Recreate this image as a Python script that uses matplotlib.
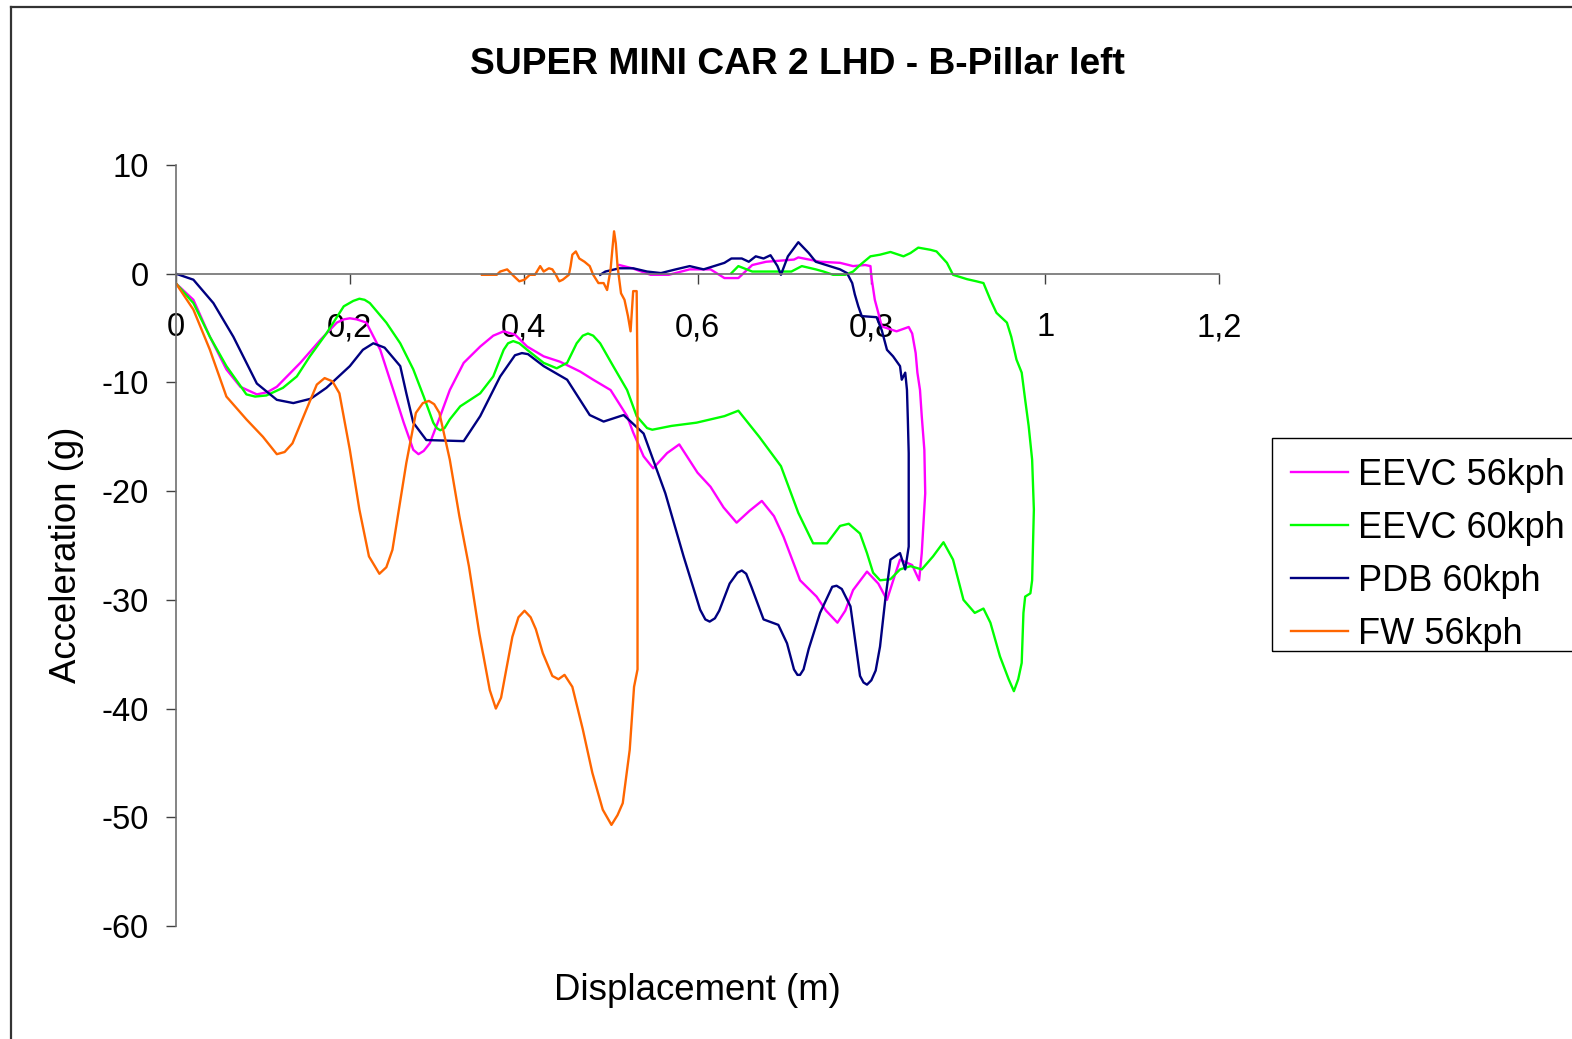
import matplotlib
matplotlib.use("Agg")
import matplotlib.pyplot as plt
from matplotlib.lines import Line2D
from matplotlib.patches import Rectangle

plt.rcParams['font.family'] = ['Liberation Sans', 'DejaVu Sans']
plt.rcParams['axes.unicode_minus'] = False

# ---------------- data ----------------
series_names = ["EEVC 56kph", "EEVC 60kph", "PDB 60kph", "FW 56kph"]
series_colors = ["#FF00FF", "#00FF00", "#000080", "#FF6600"]

eevc56_x = [0, 0.02, 0.039, 0.058, 0.074, 0.093, 0.105, 0.116, 0.143, 0.166, 0.185, 0.193, 0.2, 0.208,
            0.219, 0.235, 0.25, 0.262, 0.273, 0.279, 0.285, 0.292, 0.304, 0.315, 0.331, 0.35, 0.365,
            0.377, 0.39, 0.404, 0.423, 0.442, 0.465,
            0.48, 0.5, 0.519, 0.526, 0.538, 0.549, 0.565, 0.579, 0.6, 0.615, 0.63, 0.645, 0.66, 0.674,
            0.688, 0.699, 0.718, 0.737, 0.748, 0.761, 0.77, 0.779, 0.795, 0.808, 0.818, 0.826, 0.833,
            0.847, 0.855, 0.858, 0.862, 0.861, 0.858, 0.856, 0.853, 0.851, 0.847, 0.843, 0.829, 0.812,
            0.808, 0.804, 0.8, 0.799, 0.793, 0.779, 0.764, 0.741, 0.716, 0.711, 0.679, 0.663, 0.647,
            0.631, 0.615, 0.591, 0.567, 0.546, 0.525, 0.51]
eevc56_y = [-0.9, -2.4, -5.8, -8.8, -10.4, -11.1, -10.9, -10.4, -8.2, -6.1, -4.5, -4.2, -4.1, -4.2,
            -4.5, -7.0, -10.7, -13.7, -16.2, -16.6, -16.3, -15.6, -13.1, -10.7, -8.2, -6.7, -5.7,
            -5.3, -5.6, -6.7, -7.6, -8.1, -9.0,
            -9.75, -10.7, -13.1, -14.6, -16.8, -17.9, -16.5, -15.7, -18.3, -19.6, -21.5, -22.9, -21.8, -20.9,
            -22.3, -24.2, -28.2, -29.7, -31.0, -32.1, -31.0, -29.1, -27.4, -28.5, -30.0, -28.0, -26.3,
            -26.8, -28.2, -25.7, -20.2, -16.2, -13.1, -10.7, -9.1, -7.3, -5.5, -4.9, -5.3, -4.85,
            -3.6, -2.4, -0.25, 0.7, 0.8, 0.7, 1.0, 1.1, 1.5, 1.3, 1.1, 0.8, -0.4,
            -0.4, 0.4, 0.4, -0.1, -0.1, 0.5, 0.8]

eevc60_x = [0, 0.02, 0.039, 0.058, 0.081, 0.091, 0.104, 0.123, 0.139, 0.154, 0.173, 0.193, 0.204, 0.211,
            0.217, 0.223, 0.242, 0.258, 0.273, 0.285, 0.296, 0.3, 0.304, 0.309, 0.315, 0.327, 0.35,
            0.365, 0.377, 0.382, 0.388, 0.395, 0.404,
            0.423, 0.438, 0.45, 0.461, 0.468, 0.474, 0.48, 0.488, 0.503, 0.519, 0.53, 0.542, 0.548, 0.57, 0.599,
            0.631, 0.647, 0.671, 0.696, 0.716, 0.733, 0.749, 0.764, 0.774, 0.787, 0.795, 0.802, 0.81,
            0.822, 0.833, 0.845, 0.858, 0.871, 0.883, 0.894, 0.906, 0.919, 0.929, 0.937, 0.948, 0.958,
            0.964, 0.969, 0.973, 0.975, 0.977, 0.983, 0.985, 0.987, 0.985, 0.981, 0.977, 0.973, 0.967,
            0.961, 0.956, 0.944, 0.937, 0.929, 0.921, 0.91, 0.894, 0.887, 0.875, 0.868, 0.854, 0.845,
            0.837, 0.822, 0.81, 0.799, 0.787, 0.779, 0.77, 0.756, 0.745, 0.736, 0.72, 0.708, 0.663,
            0.647, 0.639]
eevc60_y = [-0.9, -2.7, -5.8, -8.5, -11.1, -11.3, -11.2, -10.5, -9.45, -7.6, -5.5, -3.0, -2.5, -2.3,
            -2.4, -2.7, -4.5, -6.4, -8.8, -11.3, -13.7, -14.2, -14.4, -14.2, -13.4, -12.2, -11.0,
            -9.45, -7.0, -6.4, -6.2, -6.4, -7.0,
            -8.2, -8.7, -8.2, -6.4, -5.7, -5.5, -5.7, -6.4, -8.5, -10.7, -13.1, -14.2, -14.35, -14.0, -13.7,
            -13.1, -12.6, -15.0, -17.7, -22.0, -24.8, -24.8, -23.2, -23.0, -23.9, -25.7, -27.5, -28.2,
            -28.1, -27.2, -26.9, -27.2, -26.0, -24.7, -26.3, -30.0, -31.2, -30.8, -32.1, -35.2, -37.3,
            -38.4, -37.3, -35.8, -31.2, -29.7, -29.4, -28.2, -21.7, -17.1, -14.0, -11.6, -9.1, -7.9,
            -5.8, -4.5, -3.6, -2.4, -0.86, -0.7, -0.5, -0.1, 1.0, 2.05, 2.2, 2.4, 1.9,
            1.6, 2.0, 1.75, 1.6, 0.8, 0.2, -0.1, -0.1, 0.2, 0.4, 0.7, 0.2, 0.2,
            0.7, 0.05]

pdb60_x = [0, 0.02, 0.043, 0.066, 0.093, 0.116, 0.135, 0.155, 0.173, 0.2, 0.215, 0.227, 0.24, 0.258,
           0.265, 0.273, 0.288, 0.331, 0.35, 0.373, 0.39, 0.398, 0.405, 0.423, 0.45, 0.476, 0.492, 0.515, 0.538,
           0.553, 0.563, 0.584, 0.603, 0.609, 0.614, 0.62, 0.625, 0.637, 0.646, 0.651, 0.656, 0.662, 0.676,
           0.693, 0.703, 0.711, 0.715, 0.718, 0.722, 0.728, 0.741, 0.755, 0.76, 0.766, 0.776, 0.787,
           0.791, 0.795, 0.8, 0.805, 0.81, 0.816, 0.822, 0.833, 0.839,
           0.843, 0.843, 0.842, 0.841, 0.839, 0.835, 0.833, 0.825, 0.818, 0.812, 0.806, 0.789, 0.785,
           0.781, 0.778, 0.772, 0.764, 0.752, 0.736, 0.728, 0.716, 0.704, 0.696, 0.692, 0.684, 0.676,
           0.667, 0.659, 0.651, 0.639, 0.631, 0.619, 0.607, 0.591, 0.575, 0.558, 0.542, 0.526, 0.51,
           0.494, 0.488]
pdb60_y = [0, -0.55, -2.7, -5.8, -10.1, -11.6, -11.9, -11.5, -10.5, -8.5, -7.0, -6.4, -6.8, -8.5,
           -11.0, -13.7, -15.3, -15.4, -13.1, -9.45, -7.5, -7.3, -7.4, -8.5, -9.75, -13.0, -13.6, -13.0, -14.7,
           -18.0, -20.2, -26.0, -30.9, -31.8, -32.0, -31.7, -31.0, -28.5, -27.5, -27.3, -27.6, -28.8, -31.8,
           -32.3, -34.0, -36.4, -36.9, -36.9, -36.4, -34.5, -31.2, -28.8, -28.7, -29.0, -30.6, -37.0,
           -37.6, -37.8, -37.4, -36.5, -34.3, -30.0, -26.3, -25.7, -27.2,
           -25.1, -16.5, -13.4, -10.7, -9.1, -9.75, -8.5, -7.6, -7.0, -5.2, -4.0, -3.9, -3.0,
           -1.9, -0.86, 0.06, 0.4, 0.7, 1.1, 1.9, 2.9, 1.6, -0.1, 0.7, 1.7, 1.4,
           1.6, 1.1, 1.4, 1.4, 1.0, 0.7, 0.4, 0.7, 0.4, 0.06, 0.2, 0.5, 0.5,
           0.2, -0.1]

fw56_x = [0, 0.02, 0.039, 0.058, 0.081, 0.1, 0.116, 0.125, 0.134, 0.15, 0.162, 0.171, 0.18, 0.188,
          0.2, 0.211, 0.222, 0.234, 0.242, 0.249, 0.257, 0.265, 0.276, 0.284, 0.291, 0.297, 0.303,
          0.315, 0.326, 0.337, 0.349, 0.361, 0.368, 0.374, 0.38, 0.387, 0.394, 0.401, 0.408, 0.414,
          0.422, 0.433, 0.44, 0.447, 0.456, 0.468, 0.479, 0.491, 0.501, 0.508, 0.514, 0.522, 0.527,
          0.531, 0.531, 0.53, 0.526, 0.523, 0.52, 0.516, 0.512, 0.51, 0.508, 0.506, 0.504, 0.502,
          0.5, 0.496, 0.492, 0.486, 0.48, 0.476, 0.47, 0.464, 0.46, 0.456, 0.454, 0.452, 0.445,
          0.441, 0.437, 0.433, 0.429, 0.423, 0.419, 0.413, 0.407, 0.401, 0.395, 0.389, 0.381, 0.373,
          0.369, 0.361, 0.352]
fw56_y = [-0.9, -3.3, -7.0, -11.3, -13.4, -15.0, -16.6, -16.4, -15.6, -12.5, -10.2, -9.6, -9.9, -11.0,
          -16.2, -21.7, -26.0, -27.6, -27.0, -25.4, -21.4, -17.4, -12.8, -11.9, -11.7, -12.0, -12.8,
          -17.1, -22.3, -26.9, -33.1, -38.3, -40.0, -39.0, -36.4, -33.4, -31.6, -31.0, -31.6, -32.7,
          -34.9, -37.0, -37.3, -36.9, -38.0, -41.9, -45.9, -49.3, -50.7, -49.8, -48.7, -43.8, -38.0,
          -36.4, -9.75, -1.6, -1.6, -5.3, -3.9, -2.4, -1.8, -0.55, 0.7, 2.8, 3.9, 2.2,
          0.4, -1.5, -0.86, -0.86, -0.1, 0.7, 1.1, 1.4, 2.05, 1.75, 0.7, -0.1, -0.55,
          -0.7, -0.1, 0.4, 0.5, 0.2, 0.7, -0.1, -0.1, -0.55, -0.7, -0.25, 0.4, 0.2,
          -0.1, -0.1, -0.1]

x_ticks = [0, 0.2, 0.4, 0.6, 0.8, 1.0, 1.2]
x_tick_labels = ["0", "0,2", "0,4", "0,6", "0,8", "1", "1,2"]
y_ticks = [10, 0, -10, -20, -30, -40, -50, -60]

title_text = "SUPER MINI CAR 2 LHD - B-Pillar left"
x_label = "Displacement (m)"
y_label = "Acceleration (g)"

# ---------------- figure ----------------
W, H = 1572, 1039
fig = plt.figure(figsize=(W / 100, H / 100), dpi=100)
fig.patch.set_facecolor("white")

ax = fig.add_axes([176 / W, 1 - 926 / H, (1219 - 176) / W, (926 - 165) / H])
ax.set_facecolor("none")

all_x = [eevc56_x, eevc60_x, pdb60_x, fw56_x]
all_y = [eevc56_y, eevc60_y, pdb60_y, fw56_y]
for xs, ys, name, col in zip(all_x, all_y, series_names, series_colors):
    ax.plot(xs, ys, color=col, lw=1.7, label=name)

ax.set_xlim(0, 1.2)
ax.set_ylim(-60, 10)
ax.set_xticks(x_ticks)
ax.set_xticklabels(x_tick_labels)
ax.set_yticks(y_ticks)

axis_col = "#707070"
ax.spines["top"].set_visible(False)
ax.spines["right"].set_visible(False)
ax.spines["bottom"].set_position(("data", 0))
for s in ("left", "bottom"):
    ax.spines[s].set_color(axis_col)
    ax.spines[s].set_linewidth(1.2)
ax.tick_params(axis="both", direction="out", length=7.2, width=1.0, color="#404040",
               labelsize=23.5, labelcolor="black")
ax.tick_params(axis="x", pad=20.5)
ax.tick_params(axis="y", pad=12.5)

# titles / labels
fig.text(797 / W, 1 - 74 / H, title_text, ha="center", va="baseline",
         fontsize=26.7, fontweight="bold")
fig.text(697.5 / W, 1 - 1000 / H, x_label, ha="center", va="baseline", fontsize=26.4)
fig.text(66 / W, 1 - 555 / H, y_label, ha="center", va="center", rotation=90, fontsize=26.4)

# legend (frame drawn separately so the padding matches the reference)
leg = fig.legend(loc="upper left", bbox_to_anchor=(1275 / W, 1 - 442 / H),
                 bbox_transform=fig.transFigure, fontsize=26, frameon=False,
                 borderpad=0.44, labelspacing=0.5, handlelength=1.58,
                 handletextpad=0.28, borderaxespad=0)
for h in leg.get_lines():
    h.set_linewidth(1.7)
fig.add_artist(Rectangle((1272 / W, 1 - 651 / H), (1600 - 1272) / W, (651 - 438) / H,
                         transform=fig.transFigure, fill=False, edgecolor="black",
                         lw=1.0, clip_on=False))

# outer chart border (extends beyond the image on the right and bottom)
fig.add_artist(Line2D([11 / W, 11 / W], [1 - 7 / H, -0.05], transform=fig.transFigure,
                      color="#333333", lw=1.6, clip_on=False))
fig.add_artist(Line2D([11 / W, 1.05], [1 - 7 / H, 1 - 7 / H], transform=fig.transFigure,
                      color="#333333", lw=1.6, clip_on=False))

fig.savefig("out.png", dpi=100)
